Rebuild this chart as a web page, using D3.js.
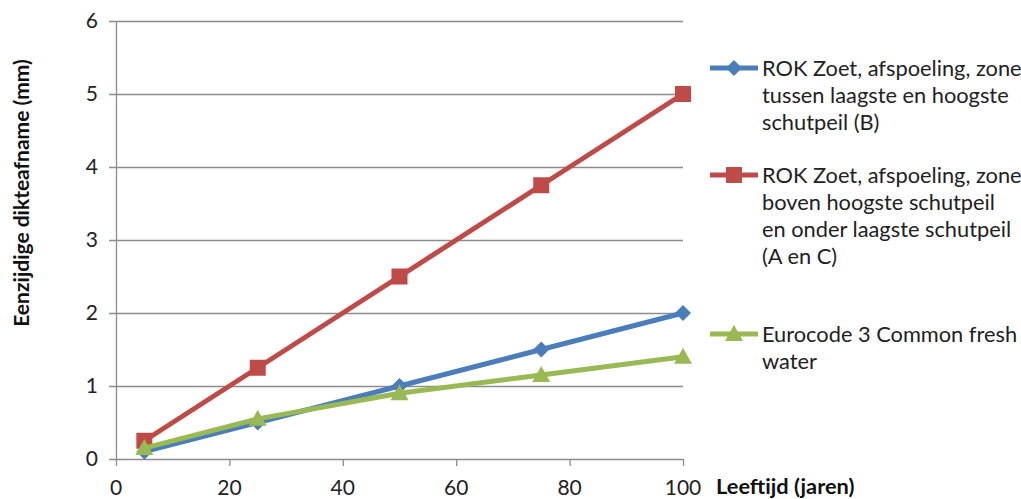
<!DOCTYPE html>
<html>
<head>
<meta charset="utf-8">
<script src="https://cdn.jsdelivr.net/npm/d3@7"></script>
<style>
  body { margin: 0; background: #fff; }
  svg { display: block; font-family: Lato, "Open Sans", sans-serif; }
</style>
</head>
<body>
<svg id="chart" width="1021" height="499"></svg>
<script>
// Leeftijd (jaren) at which thickness loss is evaluated
const ages = [5, 25, 50, 75, 100];
// Eenzijdige dikteafname (mm) per scenario
const zoneB = [0.1, 0.5, 1.0, 1.5, 2.0];
const zoneAC = [0.25, 1.25, 2.5, 3.75, 5.0];
const eurocode = [0.15, 0.55, 0.9, 1.15, 1.4];
const xTicks = [0, 20, 40, 60, 80, 100];
const yTicks = [0, 1, 2, 3, 4, 5, 6];

const seriesNames = [
  ["ROK Zoet, afspoeling, zone", "tussen laagste en hoogste", "schutpeil (B)"],
  ["ROK Zoet, afspoeling, zone", "boven hoogste schutpeil", "en onder laagste schutpeil", "(A en C)"],
  ["Eurocode 3 Common fresh", "water"]
];

const series = [
  { values: zoneB, color: "#4A7EBB", marker: "diamond", lines: seriesNames[0] },
  { values: zoneAC, color: "#BE4B48", marker: "square", lines: seriesNames[1] },
  { values: eurocode, color: "#98B954", marker: "triangle", lines: seriesNames[2] }
];

const svg = d3.select("#chart");
const plotLeft = 116, plotRight = 683, plotTop = 21, plotBottom = 459;
const fontSize = 21;
const legendFontSize = 21.8;

const x = d3.scaleLinear().domain([0, 100]).range([plotLeft, plotRight]);
const y = d3.scaleLinear().domain([0, 6]).range([plotBottom, plotTop]);

const gridColor = "#8c8c8c";

// horizontal gridlines with small ticks to the left of the axis
svg.append("g")
  .selectAll("line")
  .data(yTicks)
  .join("line")
  .attr("x1", plotLeft - 7).attr("x2", plotRight)
  .attr("y1", d => y(d) + 0.5).attr("y2", d => y(d) + 0.5)
  .attr("stroke", gridColor).attr("stroke-width", 1.3);

// value axis
svg.append("line")
  .attr("x1", plotLeft + 0.5).attr("x2", plotLeft + 0.5)
  .attr("y1", plotTop).attr("y2", plotBottom)
  .attr("stroke", gridColor).attr("stroke-width", 1.3);

// category axis ticks
svg.append("g")
  .selectAll("line")
  .data(xTicks)
  .join("line")
  .attr("x1", d => x(d) + 0.5).attr("x2", d => x(d) + 0.5)
  .attr("y1", plotBottom).attr("y2", plotBottom + 7)
  .attr("stroke", gridColor).attr("stroke-width", 1.3);

svg.append("g")
  .selectAll("text")
  .data(yTicks)
  .join("text")
  .attr("x", 98).attr("y", d => y(d))
  .attr("dy", "0.35em")
  .attr("text-anchor", "end")
  .attr("font-size", fontSize).attr("fill", "#222")
  .text(d => d);

svg.append("g")
  .selectAll("text")
  .data(xTicks)
  .join("text")
  .attr("x", d => x(d)).attr("y", 488)
  .attr("dy", "0.35em")
  .attr("text-anchor", "middle")
  .attr("font-size", fontSize).attr("fill", "#222")
  .text(d => d);

// axis titles
svg.append("text")
  .attr("transform", "translate(22,193) rotate(-90)")
  .attr("text-anchor", "middle").attr("dy", "0.35em")
  .attr("font-size", fontSize).attr("font-weight", "bold").attr("fill", "#111")
  .text("Eenzijdige dikteafname (mm)");

svg.append("text")
  .attr("x", 716).attr("y", 486).attr("dy", "0.35em")
  .attr("font-size", 21.8).attr("font-weight", "bold").attr("fill", "#111")
  .text("Leeftijd (jaren)");

function drawMarker(g, kind, cx, cy, color) {
  if (kind === "diamond") {
    g.append("path")
      .attr("d", `M${cx},${cy - 8}L${cx + 8},${cy}L${cx},${cy + 8}L${cx - 8},${cy}Z`)
      .attr("fill", color);
  } else if (kind === "square") {
    g.append("rect")
      .attr("x", cx - 8).attr("y", cy - 8).attr("width", 16).attr("height", 16)
      .attr("fill", color);
  } else {
    g.append("path")
      .attr("d", `M${cx},${cy - 9}L${cx + 9},${cy + 7}L${cx - 9},${cy + 7}Z`)
      .attr("fill", color);
  }
}

const line = d3.line().x(d => x(d[0])).y(d => y(d[1]));

series.forEach(s => {
  const pts = ages.map((a, i) => [a, s.values[i]]);
  const g = svg.append("g");
  g.append("path")
    .attr("d", line(pts))
    .attr("fill", "none").attr("stroke", s.color)
    .attr("stroke-width", 5).attr("stroke-linejoin", "round");
  pts.forEach(p => drawMarker(g, s.marker, x(p[0]), y(p[1]), s.color));
});

// legend
const legendRows = [68, 175, 334];
const lineHeight = 27;
series.forEach((s, i) => {
  const g = svg.append("g");
  const cy = legendRows[i];
  g.append("line")
    .attr("x1", 710).attr("x2", 758).attr("y1", cy).attr("y2", cy)
    .attr("stroke", s.color).attr("stroke-width", 5);
  drawMarker(g, s.marker, 734, cy, s.color);
  s.lines.forEach((t, j) => {
    g.append("text")
      .attr("x", 762).attr("y", cy + j * lineHeight).attr("dy", "0.35em")
      .attr("font-size", legendFontSize).attr("fill", "#222")
      .text(t);
  });
});
</script>
</body>
</html>
